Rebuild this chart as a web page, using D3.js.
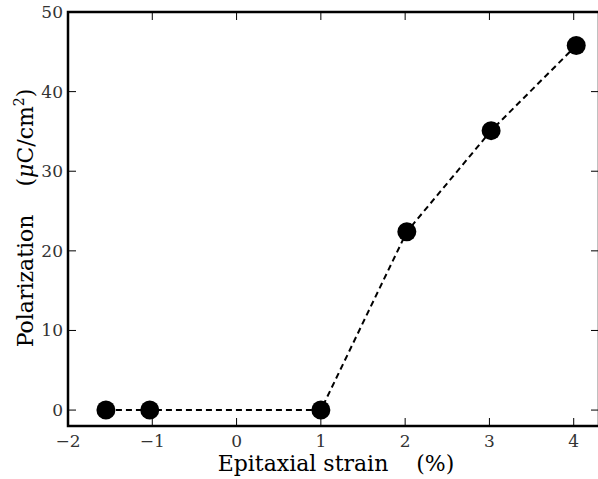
<!DOCTYPE html>
<html>
<head>
<meta charset="utf-8">
<script src="https://cdn.jsdelivr.net/npm/d3@7"></script>
<style>
  html, body { margin: 0; padding: 0; background: #fff; }
  svg { display: block; }
</style>
</head>
<body>
<svg id="chart" width="598" height="479"></svg>
<script>
// Measured polarization vs. epitaxial strain
const strain = [-1.55, -1.03, 1.0, 2.02, 3.02, 4.03];
const polarization = [0, 0, 0, 22.4, 35.1, 45.8];
const xTicks = [-2, -1, 0, 1, 2, 3, 4];
const yTicks = [0, 10, 20, 30, 40, 50];

const m = { left: 68, right: 599, top: 12, bottom: 426 };
const svg = d3.select("#chart");
const font = "'DejaVu Serif', serif";

const x = d3.scaleLinear().domain([-2, 4.3]).range([m.left, m.right]);
const y = d3.scaleLinear().domain([-2, 50]).range([m.bottom, m.top]);

// inward ticks on all four sides
const tickLen = 8;
const g = svg.append("g");
xTicks.forEach(t => {
  g.append("line").attr("x1", x(t)).attr("x2", x(t)).attr("y1", m.bottom).attr("y2", m.bottom - tickLen)
    .attr("stroke", "#000").attr("stroke-width", 1);
  g.append("line").attr("x1", x(t)).attr("x2", x(t)).attr("y1", m.top).attr("y2", m.top + tickLen)
    .attr("stroke", "#000").attr("stroke-width", 1);
});
yTicks.forEach(t => {
  g.append("line").attr("x1", m.left).attr("x2", m.left + tickLen).attr("y1", y(t)).attr("y2", y(t))
    .attr("stroke", "#000").attr("stroke-width", 1);
  g.append("line").attr("x1", m.right).attr("x2", m.right - tickLen).attr("y1", y(t)).attr("y2", y(t))
    .attr("stroke", "#000").attr("stroke-width", 1);
});

// frame
svg.append("rect").attr("x", m.left).attr("y", m.top)
  .attr("width", m.right - m.left).attr("height", m.bottom - m.top)
  .attr("fill", "none").attr("stroke", "#000").attr("stroke-width", 2.5);

// tick labels
const fmt = v => v < 0 ? "\u2212" + Math.abs(v) : String(v);
svg.append("g").selectAll("text").data(xTicks).join("text")
  .attr("x", d => x(d)).attr("y", m.bottom + 21)
  .attr("text-anchor", "middle")
  .attr("font-family", font).attr("font-size", 17).attr("fill", "#333")
  .text(fmt);
svg.append("g").selectAll("text").data(yTicks).join("text")
  .attr("x", m.left - 5).attr("y", d => y(d) + 6)
  .attr("text-anchor", "end")
  .attr("font-family", font).attr("font-size", 17).attr("fill", "#333")
  .text(fmt);

// dashed connecting line
const line = d3.line().x((d, i) => x(strain[i])).y(d => y(d));
svg.append("path").datum(polarization)
  .attr("d", line)
  .attr("fill", "none").attr("stroke", "#000").attr("stroke-width", 2)
  .attr("stroke-dasharray", "6,4");

// markers
svg.append("g").selectAll("circle").data(polarization).join("circle")
  .attr("cx", (d, i) => x(strain[i])).attr("cy", d => y(d))
  .attr("r", 9.5).attr("fill", "#000");

// axis titles
const xl = svg.append("text")
  .attr("x", 336).attr("y", 471)
  .attr("text-anchor", "middle")
  .attr("font-family", font).attr("font-size", 22).attr("fill", "#000")
  .attr("xml:space", "preserve");
xl.append("tspan").text("Epitaxial strain    (%)");

const yl = svg.append("text")
  .attr("transform", `translate(33, 218) rotate(-90)`)
  .attr("text-anchor", "middle")
  .attr("font-family", font).attr("font-size", 22).attr("fill", "#000")
  .attr("xml:space", "preserve");
yl.append("tspan").text("Polarization    (");
yl.append("tspan").attr("font-style", "italic").text("\u03bc");
yl.append("tspan").text("C/cm");
yl.append("tspan").attr("font-size", 14).attr("dy", -9).text("2");
yl.append("tspan").attr("dy", 9).text(")");
</script>
</body>
</html>
